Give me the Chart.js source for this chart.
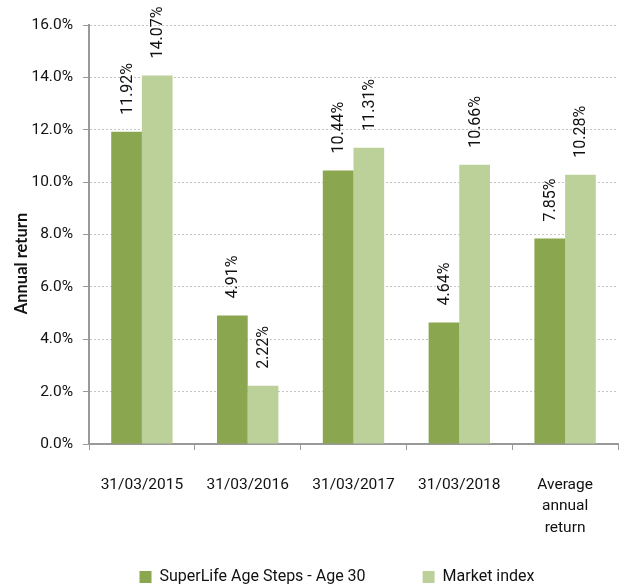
<!DOCTYPE html>
<html><head><meta charset="utf-8">
<script src="https://cdn.jsdelivr.net/npm/chart.js@4"></script>
<style>html,body{margin:0;padding:0;background:#fff}#wrap{width:622px;height:585px}</style>
</head><body><div id="wrap"><canvas id="c" width="622" height="585"></canvas></div>
<script>
const categories = ['31/03/2015', '31/03/2016', '31/03/2017', '31/03/2018', ['Average', 'annual', 'return']];
const superLife = [11.92, 4.91, 10.44, 4.64, 7.85];
const marketIndex = [14.07, 2.22, 11.31, 10.66, 10.28];
const seriesNames = ['SuperLife Age Steps - Age 30', 'Market index'];
const yTicks = [0, 2, 4, 6, 8, 10, 12, 14, 16];
const yTitle = 'Annual return';

const FONT = 'Roboto';
const labelPlugin = {
  id: 'vlabels',
  afterLayout(chart) {
    const lg = chart.legend;
    if (lg) {
      lg.left += 24; lg.right += 24;
      lg.top -= 28; lg.bottom -= 28;
    }
  },
  afterDatasetsDraw(chart) {
    const ctx = chart.ctx;
    ctx.save();
    ctx.font = '16px ' + FONT;
    ctx.fillStyle = '#111';
    ctx.textAlign = 'left';
    ctx.textBaseline = 'middle';
    chart.data.datasets.forEach((ds, di) => {
      const meta = chart.getDatasetMeta(di);
      meta.data.forEach((el, i) => {
        ctx.save();
        ctx.translate(el.x + 1, el.y - 17);
        ctx.rotate(-Math.PI / 2);
        ctx.fillText(ds.data[i].toFixed(2) + '%', 0, 0);
        ctx.restore();
      });
    });
    // y axis title
    const ca = chart.chartArea;
    ctx.save();
    ctx.font = 'bold 16.5px Lato';
    ctx.textAlign = 'center';
    ctx.textBaseline = 'middle';
    ctx.translate(22, (ca.top + ca.bottom) / 2 + 29);
    ctx.rotate(-Math.PI / 2);
    ctx.fillText(yTitle, 0, 0);
    ctx.restore();
    ctx.restore();
  }
};

new Chart(document.getElementById('c'), {
  type: 'bar',
  data: {
    labels: categories,
    datasets: [
      { label: seriesNames[0], data: superLife, backgroundColor: '#8aa64e', borderWidth: 0 },
      { label: seriesNames[1], data: marketIndex, backgroundColor: '#bcd199', borderWidth: 0 }
    ]
  },
  options: {
    responsive: false,
    animation: false,
    devicePixelRatio: 1,
    layout: { padding: { top: 25, right: 4, left: 8, bottom: -38 } },
    datasets: { bar: { categoryPercentage: 0.58, barPercentage: 1.0 } },
    plugins: {
      tooltip: { enabled: false },
      legend: {
        position: 'bottom',
        labels: {
          font: { family: FONT, size: 16 },
          color: '#111',
          boxWidth: 12,
          boxHeight: 12,
          padding: 57
        }
      }
    },
    scales: {
      x: {
        afterFit(axis) { axis.height = 96; },
        grid: { display: true, drawOnChartArea: false, drawTicks: true, tickLength: 6, color: '#999', offset: true },
        border: { color: '#999', width: 2 },
        ticks: { font: { family: FONT, size: 15.5, lineHeight: 1.4 }, color: '#111', maxRotation: 0, autoSkip: false, padding: 24 }
      },
      y: {
        min: 0, max: 16,
        afterBuildTicks(axis) { axis.ticks = yTicks.map(v => ({ value: v })); },
        afterFit(axis) { axis.width = 81; },
        grid: { color: '#c4c4c4', tickColor: '#999', tickLength: 6, drawTicks: true },
        border: { color: '#999', width: 2, dash: [2, 2] },
        ticks: { font: { family: FONT, size: 15.5 }, color: '#111', padding: 10,
          callback: v => v.toFixed(1) + '%' },
        title: { display: false }
      }
    }
  },
  plugins: [labelPlugin]
});
</script></body></html>
